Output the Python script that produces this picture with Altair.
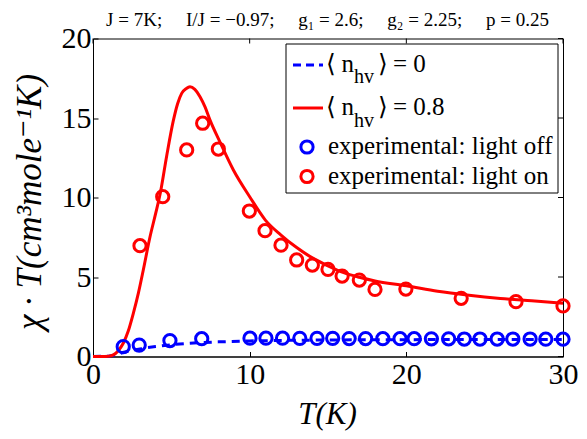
import altair as alt
import pandas as pd

# ---- data ----
curve_on_T = [0, 0.5, 1.0, 1.3, 1.6, 1.93, 2.25, 2.57, 2.9, 3.21, 3.64, 4.0, 4.3, 4.7, 5.12,
              5.4, 5.66, 5.95, 6.19, 6.5, 6.83, 7.15, 7.47, 8.1, 8.96, 10.0, 11.0, 12.0, 13.0,
              14.0, 15.0, 16.0, 17.0, 18.0, 20.0, 22.0, 24.0, 26.0, 28.0, 30.0]
curve_on_v = [0, 0, 0.02, 0.1, 0.35, 0.83, 1.6, 2.7, 4.0, 5.44, 7.53, 9.0, 10.3, 12.6, 14.8,
              15.9, 16.55, 16.85, 16.97, 16.8, 16.34, 15.7, 14.87, 13.5, 11.73, 10.05, 8.58, 7.64, 6.85,
              6.2, 5.7, 5.27, 4.98, 4.75, 4.45, 4.1, 3.85, 3.65, 3.5, 3.35]

curve_off_T = [0, 1.0, 1.5, 1.9, 2.5, 3.0, 3.5, 4.0, 5.0, 6.0, 7.0, 8.0, 10.0, 12.0, 15.0, 20.0, 25.0, 30.0]
curve_off_v = [0, 0.02, 0.12, 0.25, 0.38, 0.47, 0.56, 0.63, 0.74, 0.82, 0.88, 0.92, 0.98, 1.01, 1.04, 1.06, 1.07, 1.07]

exp_on_T = [3.0, 4.45, 5.98, 7.0, 8.0, 9.98, 10.98, 12.0, 13.0, 14.0, 15.0, 15.9, 17.0, 18.0,
            19.97, 23.5, 27.0, 30.0]
exp_on_v = [6.97, 10.05, 12.99, 14.67, 13.05, 9.15, 7.91, 7.0, 6.07, 5.75, 5.48, 5.06, 4.81, 4.22,
            4.24, 3.66, 3.45, 3.18]

exp_off_T = [1.93, 2.95, 4.91, 6.94, 10.02, 11.04, 12.1, 13.2, 14.3, 15.3, 16.35, 17.4, 18.5, 19.6,
             20.5, 21.6, 22.7, 23.7, 24.7, 25.8, 26.8, 27.9, 28.9, 30.0]
exp_off_v = [0.62, 0.72, 1.0, 1.12, 1.15, 1.15, 1.15, 1.14, 1.14, 1.14, 1.13, 1.13, 1.12, 1.12,
             1.12, 1.11, 1.11, 1.1, 1.1, 1.1, 1.1, 1.1, 1.09, 1.09]

x_ticks = [0, 10, 20, 30]
y_ticks = [0, 5, 10, 15, 20]

SEP = "; \u2003"
title_text = SEP.join(["J = 7K", "I/J = −0.97", "g₁ = 2.6", "g₂ = 2.25", "p = 0.25"])
x_title = "T(K)"
y_title = "χ · T(cm³mole⁻¹K)"

W, H = 470, 318
SERIF = "Liberation Serif, DejaVu Serif, serif"

xs = alt.Scale(domain=[0, 30], nice=False, zero=False)
ys = alt.Scale(domain=[0, 20], nice=False, zero=False)

inward = {"expr": "-5"}

ax_bottom = alt.Axis(values=x_ticks, format="d", tickSize=inward, tickColor="black",
                     domainColor="black", labelFont=SERIF, labelFontSize=30, labelColor="black",
                     labelPadding=8, labelFlush=False, grid=False, title=None)
ax_left = alt.Axis(values=y_ticks, format="d", tickSize=inward, tickColor="black",
                   domainColor="black", labelFont=SERIF, labelFontSize=30, labelColor="black",
                   labelPadding=7, labelFlush=False, grid=False, title=None)

df_on = pd.DataFrame({"T": curve_on_T, "v": curve_on_v})
df_off = pd.DataFrame({"T": curve_off_T, "v": curve_off_v})
df_eon = pd.DataFrame({"T": exp_on_T, "v": exp_on_v})
df_eoff = pd.DataFrame({"T": exp_off_T, "v": exp_off_v})
df_xt = pd.DataFrame({"T": x_ticks})
df_yt = pd.DataFrame({"v": y_ticks})

line_off = alt.Chart(df_off).mark_line(color="#0000ff", strokeWidth=3, strokeDash=[8, 6]).encode(
    x=alt.X("T:Q", scale=xs, axis=ax_bottom), y=alt.Y("v:Q", scale=ys, axis=ax_left))
top_ticks = alt.Chart(df_xt).mark_rule(color="black", strokeWidth=1).encode(
    x=alt.X("T:Q", scale=xs), y=alt.value(0), y2=alt.value(5))
right_ticks = alt.Chart(df_yt).mark_rule(color="black", strokeWidth=1).encode(
    y=alt.Y("v:Q", scale=ys), x=alt.value(W - 5), x2=alt.value(W))
line_on = alt.Chart(df_on).mark_line(color="#ff0000", strokeWidth=3, interpolate="monotone").encode(
    x=alt.X("T:Q", scale=xs), y=alt.Y("v:Q", scale=ys))
pts_off = alt.Chart(df_eoff).mark_point(shape="circle", color="#0000ff", strokeWidth=3, size=150,
                                        filled=False, opacity=1).encode(
    x=alt.X("T:Q", scale=xs), y=alt.Y("v:Q", scale=ys))
pts_on = alt.Chart(df_eon).mark_point(shape="circle", color="#ff0000", strokeWidth=3, size=150,
                                      filled=False, opacity=1).encode(
    x=alt.X("T:Q", scale=xs), y=alt.Y("v:Q", scale=ys))

one = pd.DataFrame({"a": [0]})

def txt(s, x, y, size=25, align="left", style="normal", baseline="alphabetic", angle=None):
    kw = dict(text=s, align=align, baseline=baseline, font=SERIF, fontSize=size,
              fontStyle=style, color="black")
    if angle is not None:
        kw["angle"] = angle
    return alt.Chart(one).mark_text(**kw).encode(x=alt.value(x), y=alt.value(y))

# legend box (pixel positions relative to plot area)
ox, oy = 93, 38.5
box = alt.Chart(one).mark_rect(fill="white", stroke="black", strokeWidth=1).encode(
    x=alt.value(286 - ox), x2=alt.value(558 - ox), y=alt.value(44 - oy), y2=alt.value(193 - oy))
leg_dash = alt.Chart(one).mark_rule(color="#0000ff", strokeWidth=3, strokeDash=[8, 5]).encode(
    x=alt.value(293 - ox), x2=alt.value(323 - ox), y=alt.value(65 - oy))
leg_solid = alt.Chart(one).mark_rule(color="#ff0000", strokeWidth=3).encode(
    x=alt.value(293 - ox), x2=alt.value(323 - ox), y=alt.value(108 - oy))
leg_c_off = alt.Chart(one).mark_point(shape="circle", color="#0000ff", strokeWidth=3, size=150,
                                      filled=False, opacity=1).encode(
    x=alt.value(307 - ox), y=alt.value(147 - oy))
leg_c_on = alt.Chart(one).mark_point(shape="circle", color="#ff0000", strokeWidth=3, size=150,
                                     filled=False, opacity=1).encode(
    x=alt.value(307 - ox), y=alt.value(176.5 - oy))

legend_layers = [box, leg_dash, leg_solid, leg_c_off, leg_c_on]
for base_y, val in [(71.7, "= 0"), (115, "= 0.8")]:
    legend_layers += [
        txt("⟨", 326 - ox, base_y - oy),
        txt("n", 341.5 - ox, base_y - oy),
        txt("hv", 354 - ox, base_y + 11.5 - oy, size=20),
        txt("⟩", 378 - ox, base_y - oy),
        txt(val, 393 - ox, base_y - oy),
    ]
legend_layers += [
    txt("experimental: light off", 328 - ox, 153.5 - oy),
    txt("experimental: light on", 328 - ox, 183.5 - oy),
]

title = txt(title_text, 327.5 - ox, 26 - oy, size=19, align="center")
xt = txt(x_title, 327.5 - ox, 424 - oy, size=31, align="center", style="italic")
yt = txt(y_title, 30 - ox, 202 - oy, size=35, align="center", style="italic",
         baseline="middle", angle=270)

chart = alt.layer(line_off, top_ticks, right_ticks, line_on, pts_off, pts_on, *legend_layers,
                  title, xt, yt).properties(
    width=W, height=H,
    autosize=alt.AutoSizeParams(type="none"),
    padding={"left": 85, "top": 30.5, "right": 16, "bottom": 74},
).configure_view(stroke="black", strokeWidth=1)

chart.save("out.html", embed_options={"renderer": "svg", "actions": False})
